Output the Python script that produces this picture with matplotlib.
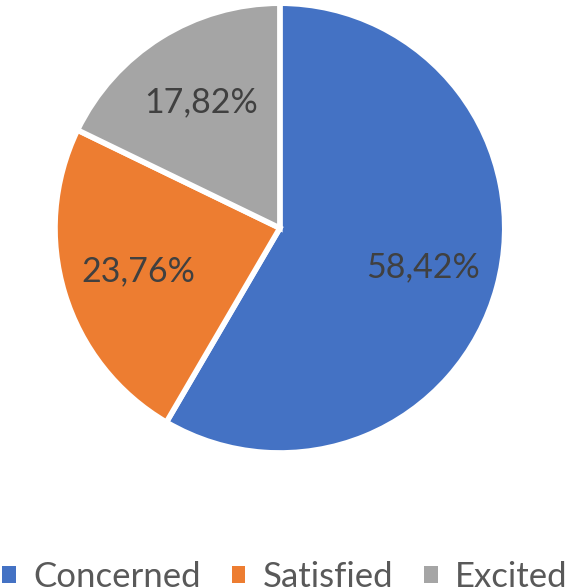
import matplotlib.pyplot as plt
from matplotlib.patches import Patch

labels = ['Concerned', 'Satisfied', 'Excited']
values = [58.42, 23.76, 17.82]
colors = ['#4472C4', '#ED7D31', '#A5A5A5']

plt.rcParams['font.family'] = ['Lato', 'DejaVu Sans']

fig = plt.figure(figsize=(5.7, 5.88), dpi=100)
ax = fig.add_axes([0.0965, 0.2296, 0.789, 0.765])

wedges, texts, autotexts = ax.pie(
    values, colors=colors, startangle=90, counterclock=False,
    autopct=lambda p: f'{p:.2f}%'.replace('.', ','), pctdistance=0.66,
    wedgeprops=dict(edgecolor='white', linewidth=4),
    textprops=dict(fontsize=24.5, color='#404040'))
ax.set_aspect('equal')
ax.set_xlim(-1, 1)
ax.set_ylim(-1, 1)

handles = [Patch(facecolor=c, label=l) for c, l in zip(colors, labels)]
fig.legend(handles=handles, loc='lower center', bbox_to_anchor=(0.5, -0.049),
           ncol=3, frameon=False, fontsize=25, labelcolor='#595959',
           handlelength=0.38, handleheight=0.38, handletextpad=0.5,
           columnspacing=0.9, borderaxespad=0.3)

fig.savefig('out.png', dpi=100)
